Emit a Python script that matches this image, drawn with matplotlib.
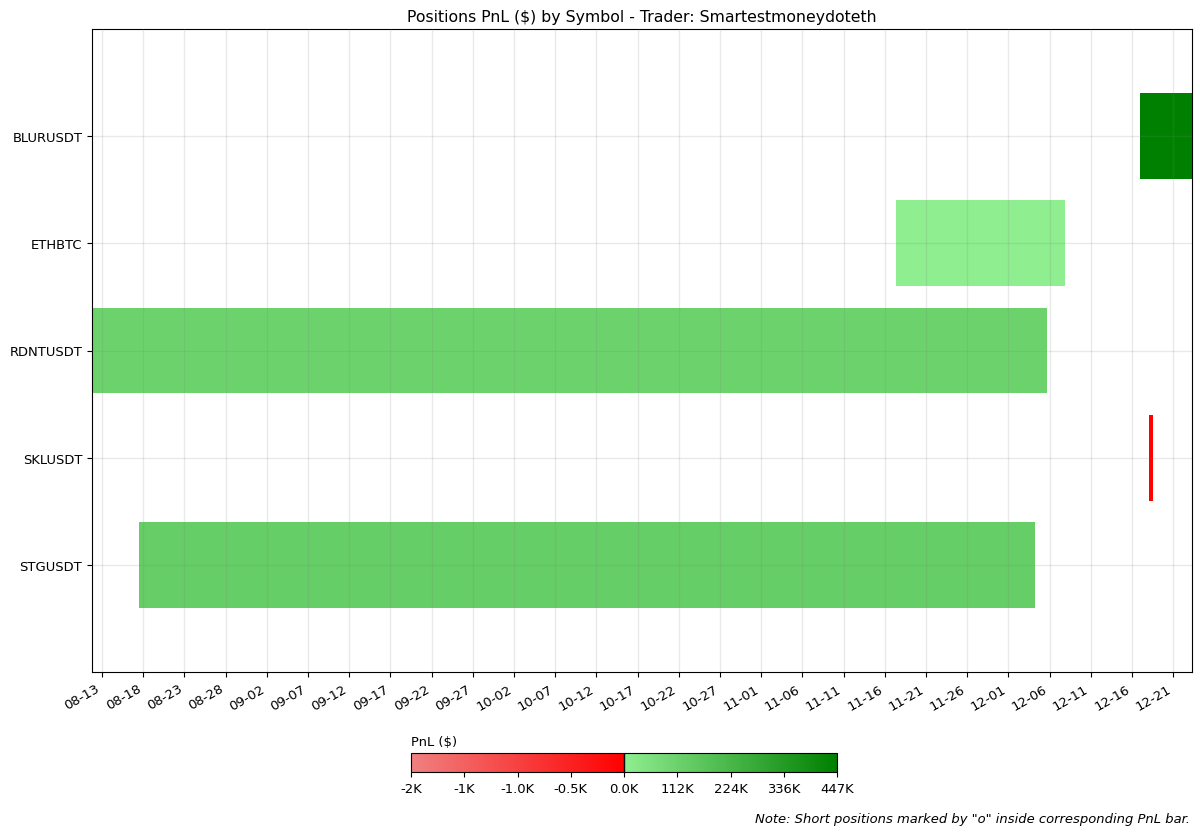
import numpy as np
import pandas as pd
import matplotlib
matplotlib.use('Agg')
from matplotlib import pyplot as plt
from matplotlib import colors as colors
import matplotlib.dates as mdates

trader = 'Smartestmoneydoteth'
symbols = ['BLURUSDT', 'ETHBTC', 'RDNTUSDT', 'SKLUSDT', 'STGUSDT']
starts = ['2023-12-17 00:00', '2023-11-17 10:00', '2023-08-11 19:00', '2023-12-18 02:00', '2023-08-17 12:00']
ends = ['2023-12-23 07:00', '2023-12-07 22:00', '2023-12-05 17:00', '2023-12-18 14:00', '2023-12-04 05:00']
pnl = [447000, 2000, 109000, -10, 130000]

pnl_min = -2000
pnl_max = 447000
cbar_ticks = [-2000, -1500, -1000, -500, 0, 111750, 223500, 335250, 447000]
cbar_labels = ['-2K', '-1K', '-1.0K', '-0.5K', '0.0K', '112K', '224K', '336K', '447K']

starts = pd.to_datetime(starts)
ends = pd.to_datetime(ends)

plt.rcParams['font.size'] = 9.45

cmap = colors.LinearSegmentedColormap.from_list('pnl', [(0.0, 'lightcoral'), (0.5, 'red'),
                                                        (0.5, 'lightgreen'), (1.0, 'green')])
norm = colors.TwoSlopeNorm(vmin=pnl_min, vcenter=0, vmax=pnl_max)

fig = plt.figure(figsize=(12, 8.37), dpi=100)
ax = fig.add_axes([92/1200, 1-673/837, 1100/1200, 643/837])

left = mdates.date2num(starts)
right = mdates.date2num(ends)
ypos = np.arange(len(symbols))
for i in range(len(symbols)):
	ax.barh(ypos[i], right[i]-left[i], left=left[i], height=0.8, color=cmap(norm(pnl[i])), zorder=1)

ax.set_yticks(ypos)
ax.set_yticklabels(symbols)
ax.set_ylim(len(symbols), -1)
ax.set_xlim(left.min(), right.max())
ax.xaxis.set_major_formatter(mdates.DateFormatter('%m-%d'))
ticks = mdates.drange(pd.Timestamp('2023-08-13').to_pydatetime(), pd.Timestamp('2023-12-24').to_pydatetime(), pd.Timedelta(days=5).to_pytimedelta())
ax.set_xticks(ticks)
plt.setp(ax.get_xticklabels(), rotation=30, ha='right')
ax.grid(True, color='gray', alpha=0.17, linewidth=1, zorder=2)
ax.set_axisbelow(False)
ax.set_title('Positions PnL ($) by Symbol - Trader: ' + trader, fontsize=11.35)

cax = fig.add_axes([411/1200, 1-773/837, 426/1200, 19/837])
sm = plt.cm.ScalarMappable(cmap=cmap, norm=norm)
cb = fig.colorbar(sm, cax=cax, orientation='horizontal')
cb.set_ticks(cbar_ticks)
cb.set_ticklabels(cbar_labels)
cax.axvline(0, color='k', linewidth=1)
cax.set_title('PnL ($)', loc='left', fontsize=9.45)

fig.text(1190/1200, 1-820/837, 'Note: Short positions marked by "o" inside corresponding PnL bar.',
		 ha='right', va='center', style='italic', fontsize=9.45)

plt.savefig('out.png')
plt.close()
